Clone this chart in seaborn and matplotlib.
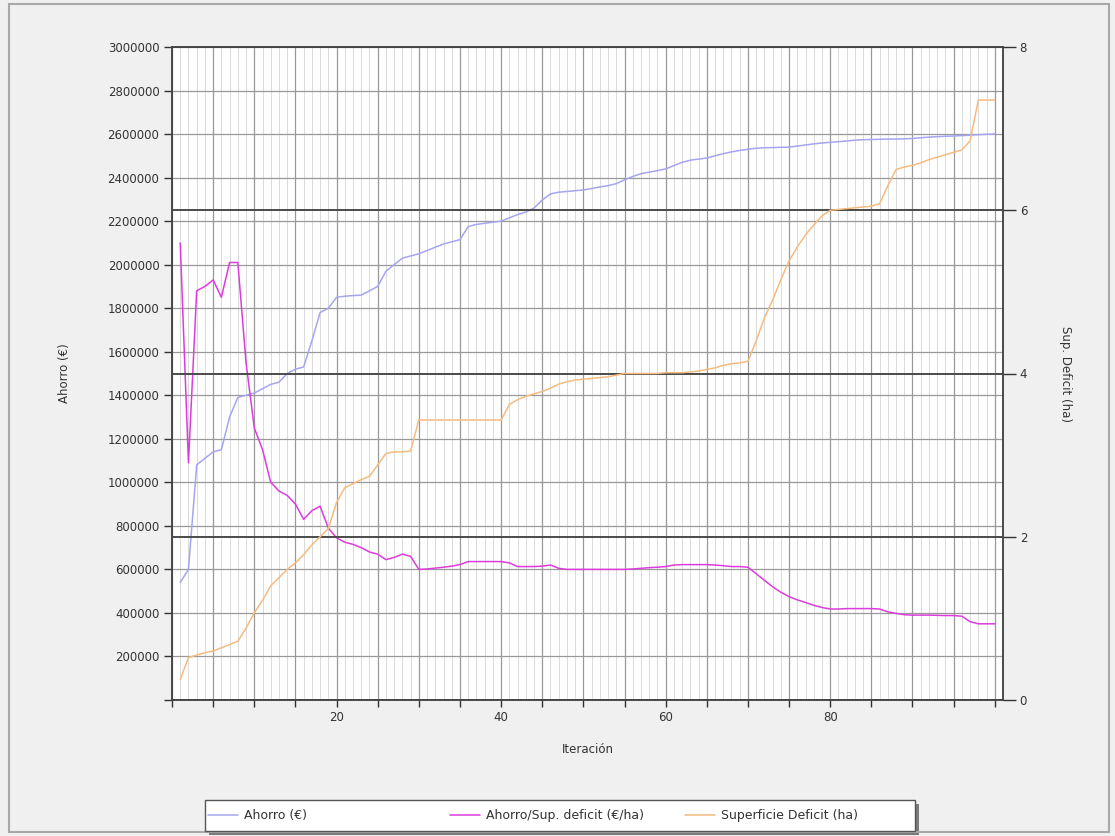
import matplotlib
matplotlib.use("Agg")
import matplotlib.pyplot as plt
import seaborn as sns
from matplotlib.ticker import MultipleLocator, FuncFormatter, FixedLocator
from matplotlib.patches import Rectangle

iteracion = list(range(1, 101))

ahorro = [540000, 600000, 1080000, 1110000, 1140000, 1150000, 1300000, 1390000, 1400000, 1410000,
          1430000, 1450000, 1460000, 1500000, 1520000, 1530000, 1650000, 1780000, 1800000, 1850000,
          1855000, 1858000, 1860000, 1880000, 1900000, 1970000, 2000000, 2030000, 2040000, 2050000,
          2065000, 2080000, 2095000, 2105000, 2115000, 2175000, 2185000, 2190000, 2195000, 2200000,
          2215000, 2230000, 2242000, 2260000, 2297000, 2325000, 2333000, 2336000, 2340000, 2343000,
          2350000, 2357000, 2363000, 2372000, 2390000, 2405000, 2418000, 2425000, 2432000, 2440000,
          2455000, 2470000, 2480000, 2485000, 2490000, 2500000, 2510000, 2518000, 2525000, 2530000,
          2535000, 2537000, 2538000, 2539000, 2540000, 2545000, 2550000, 2555000, 2559000, 2562000,
          2565000, 2568000, 2572000, 2574000, 2575000, 2576000, 2577000, 2577000, 2578000, 2580000,
          2583000, 2586000, 2588000, 2590000, 2591000, 2593000, 2595000, 2597000, 2599000, 2600000]

ahorro_sup = [2100000, 1090000, 1880000, 1900000, 1930000, 1850000, 2010000, 2010000, 1550000, 1250000,
              1150000, 1000000, 960000, 940000, 900000, 830000, 870000, 890000, 790000, 745000,
              725000, 715000, 700000, 680000, 670000, 645000, 655000, 670000, 660000, 600000,
              602000, 606000, 610000, 615000, 622000, 636000, 636000, 636000, 636000, 636000,
              630000, 613000, 613000, 613000, 615000, 620000, 605000, 600000, 600000, 600000,
              600000, 600000, 600000, 600000, 600000, 602000, 605000, 608000, 610000, 613000,
              620000, 622000, 622000, 622000, 622000, 620000, 617000, 613000, 613000, 610000,
              580000, 550000, 520000, 495000, 475000, 460000, 448000, 435000, 425000, 418000,
              418000, 420000, 420000, 420000, 420000, 418000, 405000, 398000, 392000, 390000,
              390000, 390000, 389000, 388000, 388000, 385000, 360000, 350000, 350000, 350000]

superficie = [0.25, 0.52, 0.55, 0.58, 0.60, 0.64, 0.68, 0.72, 0.88, 1.07,
              1.22, 1.40, 1.50, 1.60, 1.68, 1.78, 1.90, 2.00, 2.10, 2.42,
              2.60, 2.65, 2.70, 2.74, 2.88, 3.02, 3.04, 3.04, 3.05, 3.43,
              3.43, 3.43, 3.43, 3.43, 3.43, 3.43, 3.43, 3.43, 3.43, 3.43,
              3.62, 3.68, 3.72, 3.75, 3.78, 3.82, 3.87, 3.90, 3.92, 3.93,
              3.94, 3.95, 3.96, 3.98, 4.00, 4.00, 4.00, 4.00, 4.00, 4.01,
              4.01, 4.01, 4.02, 4.03, 4.05, 4.07, 4.10, 4.12, 4.13, 4.15,
              4.40, 4.68, 4.90, 5.15, 5.38, 5.55, 5.70, 5.82, 5.93, 6.00,
              6.01, 6.02, 6.03, 6.04, 6.05, 6.08, 6.30, 6.50, 6.53, 6.55,
              6.58, 6.62, 6.65, 6.68, 6.71, 6.74, 6.85, 7.35, 7.35, 7.35]

labels = ["Ahorro (€)", "Ahorro/Sup. deficit (€/ha)", "Superficie Deficit (ha)"]
x_labeled = [20, 40, 60, 80]

sns.set_theme(style="white")
plt.rcParams['font.family'] = ['DejaVu Sans']
FS = 8.5
TXT = "#333333"

fig = plt.figure(figsize=(11.15, 8.36), dpi=100, facecolor="#f0f0f0")
ax = fig.add_axes([172 / 1115, 1 - 700 / 836, (1003 - 172) / 1115, (700 - 47) / 836])
ax.set_facecolor("white")
ax2 = ax.twinx()

c_blue = "#a5a5f0"
c_mag = "#dd3cdd"
c_org = "#f5bb80"

sns.lineplot(x=iteracion, y=ahorro, ax=ax, color=c_blue, linewidth=1.1, label=labels[0])
sns.lineplot(x=iteracion, y=ahorro_sup, ax=ax, color=c_mag, linewidth=1.1, label=labels[1])
sns.lineplot(x=iteracion, y=superficie, ax=ax2, color=c_org, linewidth=1.1, label=labels[2])

h1, l1 = ax.get_legend_handles_labels()
h2, l2 = ax2.get_legend_handles_labels()
for a in (ax, ax2):
    if a.get_legend() is not None:
        a.get_legend().remove()

ax.set_xlim(0, 101)
ax.set_ylim(0, 3000000)
ax2.set_ylim(0, 8)

# x ticks
ax.xaxis.set_major_locator(MultipleLocator(5))
ax.xaxis.set_minor_locator(MultipleLocator(1))
ax.xaxis.set_major_formatter(FuncFormatter(lambda v, p: f"{int(round(v))}" if int(round(v)) in x_labeled else ""))
ax.tick_params(axis="x", which="major", direction="out", length=5, width=1, color="#333333",
               labelsize=FS, labelcolor=TXT, pad=3, bottom=True)
ax.tick_params(axis="x", which="minor", length=0)

# left y ticks
ax.yaxis.set_major_locator(MultipleLocator(200000))
ax.yaxis.set_major_formatter(FuncFormatter(lambda v, p: "" if v <= 0 else f"{int(round(v))}"))
ax.tick_params(axis="y", which="major", direction="out", length=6, width=1, color="#333333",
               labelsize=FS, labelcolor=TXT, pad=3, left=True)

# right y ticks
ax2.yaxis.set_major_locator(FixedLocator([0, 2, 4, 6, 8]))
ax2.yaxis.set_major_formatter(FuncFormatter(lambda v, p: f"{int(round(v))}"))
ax2.tick_params(axis="y", which="major", direction="out", length=9, width=1, color="#333333",
                labelsize=FS, labelcolor=TXT, pad=3, right=True)

# grids
ax.grid(True, which="minor", axis="x", color="#d4d4d4", linewidth=0.6)
ax.grid(True, which="major", axis="x", color="#999999", linewidth=0.9)
ax.grid(True, which="major", axis="y", color="#999999", linewidth=0.9)
ax2.grid(True, which="major", axis="y", color="#4a4a4a", linewidth=1.4)
ax.set_axisbelow(True)

for a in (ax, ax2):
    for s in a.spines.values():
        s.set_color("#444444")
        s.set_linewidth(1.1)

ax.set_xlabel("Iteración", fontsize=FS, color=TXT)
ax.xaxis.set_label_coords(0.5, -0.066)
ax.set_ylabel("Ahorro (€)", fontsize=FS, color=TXT)
ax.yaxis.set_label_coords(-0.121, 0.5)
ax2.set_ylabel("Sup. Deficit (ha)", fontsize=FS, color=TXT, rotation=270, va="center")
ax2.yaxis.set_label_coords(1.075, 0.5)

# legend box with shadow
W, H = 1115, 836
lx0, lx1, ly0, ly1 = 205, 915, 800, 831
fig.patches.append(Rectangle(((lx0 + 4) / W, 1 - (ly1 + 4) / H), (lx1 - lx0) / W, (ly1 - ly0) / H,
                             transform=fig.transFigure, facecolor="#7a7a7a", edgecolor="none", zorder=1))
fig.patches.append(Rectangle((lx0 / W, 1 - ly1 / H), (lx1 - lx0) / W, (ly1 - ly0) / H,
                             transform=fig.transFigure, facecolor="white", edgecolor="#555555",
                             linewidth=1, zorder=2))
handles = h1 + h2
leg_x = [208, 450, 685]
for hnd, lab, x0 in zip(handles, labels, leg_x):
    lg = fig.legend([hnd], [lab], loc="center left", bbox_to_anchor=(x0 / W, 1 - (ly0 + ly1) / 2 / H),
                    frameon=False, fontsize=9, handlelength=2.4, handletextpad=0.5, borderaxespad=0,
                    borderpad=0)
    lg.set_zorder(5)
    for t in lg.get_texts():
        t.set_color(TXT)

fig.patches.append(Rectangle((9 / W, 4 / H), (1109 - 9) / W, (832 - 4) / H,
                             transform=fig.transFigure, fill=False,
                             edgecolor="#a8a8a8", linewidth=1.5))

fig.savefig("out.png", dpi=100, facecolor=fig.get_facecolor())
